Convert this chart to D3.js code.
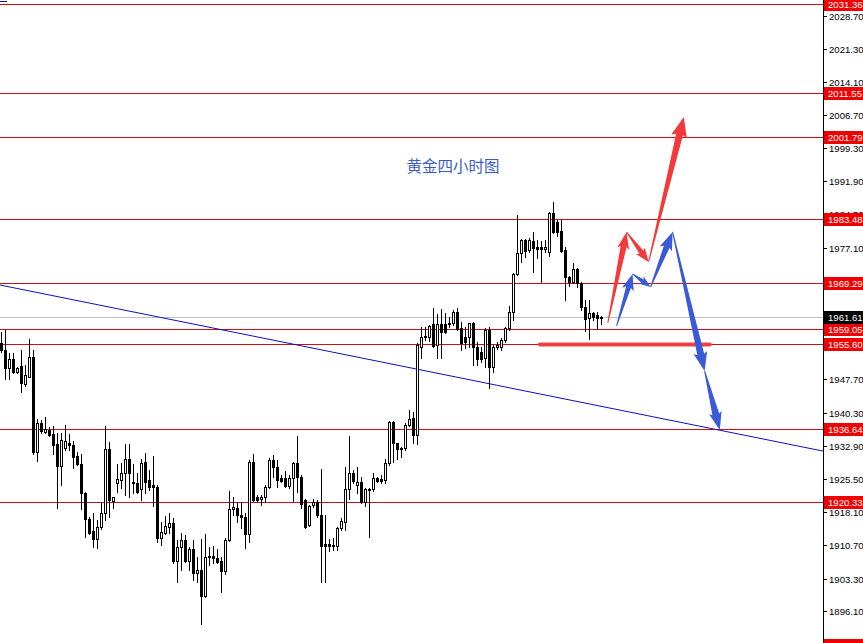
<!DOCTYPE html>
<html><head><meta charset="utf-8">
<script src="https://cdn.jsdelivr.net/npm/d3@7"></script>
<style>html,body{margin:0;padding:0;background:#fff;overflow:hidden}</style>
</head><body>
<svg id="c" width="863" height="643"></svg>
<script>
// ---- DATA ----
const openP = [1955.8,1954.3,1950.3,1952.3,1949.4,1950.7,1946.7,1948.3,1952.7,1931.5,1938.0,1936.0,1936.4,1935.5,1933.3,1928.4,1932.5,1933.5,1933.1,1930.6,
1928.9,1922.4,1916.6,1913.9,1912.1,1914.8,1917.9,1932.2,1920.6,1924.6,1925.3,1926.9,1930.0,1924.9,1924.6,1923.3,1929.3,1925.3,1924.2,1923.7,
1912.4,1913.5,1914.8,1915.7,1907.2,1910.4,1911.9,1907.2,1909.9,1904.6,1905.2,1899.4,1908.1,1908.4,1907.9,1907.2,1905.0,1911.9,1918.8,1919.1,
1917.5,1917.1,1913.3,1929.3,1921.5,1921.1,1921.5,1923.7,1929.8,1928.2,1925.7,1925.7,1923.9,1925.7,1929.1,1926.0,1920.8,1915.3,1919.7,1920.4,
1917.5,1911.0,1911.0,1910.6,1910.6,1914.6,1915.9,1923.3,1926.9,1924.2,1924.9,1920.4,1923.1,1923.3,1925.7,1925.5,1925.3,1929.1,1938.2,1933.5,
1932.4,1932.4,1937.5,1939.1,1935.3,1955.0,1957.2,1957.2,1960.1,1955.4,1960.1,1960.1,1960.3,1960.3,1962.7,1959.2,1957.2,1957.2,1960.3,1955.0,
1953.8,1952.5,1958.7,1950.5,1954.9,1955.0,1956.5,1959.2,1962.7,1971.2,1975.9,1978.8,1976.6,1978.6,1977.2,1977.2,1976.8,1976.1,1984.8,1982.8,
1980.8,1976.6,1970.5,1969.4,1972.3,1969.2,1963.9,1961.4,1962.5,1962.1,1961.5];
const highP = [1958.3,1958.7,1953.6,1953.6,1950.5,1954.3,1950.9,1956.7,1954.3,1938.9,1938.7,1939.3,1937.1,1937.3,1935.8,1935.8,1937.6,1935.5,1934.0,1931.5,
1931.1,1922.6,1917.1,1917.9,1916.4,1920.2,1937.3,1933.8,1921.5,1928.9,1929.1,1933.3,1933.3,1928.9,1926.9,1930.0,1931.3,1927.5,1930.6,1924.2,
1916.0,1917.3,1917.9,1916.8,1911.9,1913.5,1913.0,1910.4,1911.9,1908.1,1912.1,1913.3,1910.4,1910.6,1909.9,1908.1,1912.4,1922.8,1921.5,1920.4,
1920.4,1917.9,1929.8,1931.1,1922.0,1922.0,1924.2,1930.2,1930.9,1929.8,1926.4,1927.3,1926.4,1929.3,1935.1,1926.4,1921.0,1919.7,1921.1,1920.8,
1927.7,1917.5,1912.1,1912.4,1914.8,1916.8,1928.2,1935.1,1927.5,1928.2,1926.0,1923.5,1923.5,1926.9,1925.9,1926.4,1930.0,1938.4,1938.4,1933.5,
1932.7,1938.0,1940.9,1940.4,1955.8,1959.4,1959.4,1959.9,1963.6,1962.3,1963.4,1962.5,1961.6,1963.2,1963.6,1960.5,1959.4,1960.3,1960.5,1956.1,
1955.0,1959.2,1959.4,1955.4,1956.1,1956.9,1959.4,1964.1,1971.4,1984.4,1979.0,1979.0,1979.2,1980.6,1978.8,1978.6,1978.8,1985.0,1987.3,1983.2,
1983.2,1977.2,1970.8,1973.7,1972.5,1969.4,1965.4,1965.4,1962.7,1962.7,1961.9];
const lowP = [1953.8,1947.8,1947.8,1949.2,1949.2,1944.9,1946.2,1948.2,1931.1,1929.5,1935.8,1935.8,1935.1,1931.1,1919.1,1924.2,1932.0,1932.0,1928.0,1928.6,
1918.8,1912.6,1913.3,1910.4,1910.1,1914.4,1916.4,1917.1,1919.1,1922.6,1923.5,1921.9,1921.5,1922.4,1922.4,1920.8,1922.4,1923.0,1919.5,1911.5,
1910.8,1913.3,1913.5,1906.8,1902.6,1905.2,1907.0,1905.2,1903.0,1902.6,1893.2,1899.2,1906.4,1906.8,1906.8,1900.3,1904.3,1911.7,1917.5,1916.0,
1914.6,1910.1,1911.5,1920.6,1920.4,1919.7,1920.4,1923.5,1926.0,1923.7,1924.9,1923.7,1923.5,1920.6,1922.6,1919.1,1914.6,1915.0,1919.3,1917.1,
1902.6,1902.6,1909.5,1909.7,1909.7,1914.2,1914.2,1921.1,1924.6,1922.4,1920.2,1919.5,1912.6,1922.8,1924.9,1924.6,1924.6,1928.6,1929.3,1930.0,
1930.4,1932.0,1937.3,1933.5,1933.3,1952.5,1956.5,1956.3,1955.0,1952.5,1952.5,1958.1,1959.4,1959.9,1958.7,1954.3,1954.7,1955.0,1950.9,1950.9,
1951.6,1950.5,1945.8,1949.4,1954.5,1954.3,1956.1,1958.7,1961.0,1971.0,1973.9,1975.0,1976.1,1971.7,1974.8,1969.4,1976.1,1975.2,1980.4,1979.7,
1976.1,1965.4,1968.5,1969.2,1968.3,1963.2,1958.5,1956.7,1961.0,1959.2,1960.1];
const closeP = [1954.3,1950.3,1952.3,1949.4,1950.3,1946.9,1948.7,1952.7,1931.5,1938.0,1936.2,1936.7,1935.3,1933.1,1928.4,1934.2,1934.0,1933.0,1930.4,1928.9,
1922.4,1916.6,1913.5,1912.1,1914.8,1917.9,1932.2,1920.8,1921.5,1925.5,1926.9,1930.0,1926.9,1924.6,1922.6,1929.1,1924.9,1923.7,1923.7,1912.4,
1913.7,1915.0,1915.7,1907.2,1910.4,1911.9,1907.2,1909.9,1904.6,1905.2,1899.4,1908.1,1908.4,1907.9,1907.0,1905.0,1911.9,1918.8,1919.3,1917.5,
1917.1,1913.3,1929.3,1920.8,1920.8,1921.5,1923.7,1929.8,1928.2,1925.3,1925.1,1923.9,1925.7,1929.1,1926.0,1919.9,1914.8,1919.5,1920.4,1917.5,
1910.6,1910.6,1910.6,1910.8,1914.6,1916.2,1923.3,1926.9,1925.1,1924.9,1920.4,1923.3,1923.3,1925.7,1925.1,1925.1,1929.1,1938.2,1933.5,1932.2,
1932.2,1937.5,1938.9,1935.3,1955.4,1957.2,1957.4,1959.6,1955.2,1960.1,1958.3,1958.3,1960.1,1962.7,1958.9,1955.8,1956.1,1960.3,1955.0,1952.3,
1952.3,1958.7,1950.5,1955.0,1955.4,1956.5,1959.2,1962.7,1971.2,1975.9,1978.8,1976.3,1978.8,1977.0,1976.8,1976.8,1977.2,1984.8,1980.6,1980.6,
1976.3,1970.5,1969.4,1972.3,1969.2,1963.9,1961.2,1962.5,1961.6,1961.4,1961.61];

const axisTicks = [2028.70,2021.30,2014.10,2006.70,1999.30,1991.90,1984.50,1977.10,1969.70,1962.30,1954.90,1947.70,1940.30,1932.90,1925.50,1918.10,1910.70,1903.30,1896.10];
const levels = [2031.36,2011.55,2001.79,1983.48,1969.29,1959.05,1955.60,1936.64,1920.33,1888.47];
const lastPrice = 1961.61;
// trendline: [candle index, price]
const trendline = [[0,1968.70],[205.4,1931.76]];
// support brush line: [start index, end index, price]
const supportBrush = [134.7,177.2,1955.60];
// arrow paths: [candle index, price]
const redPath = [[151.7,1960.29],[156.4,1980.57],[161.9,1973.88],[170.7,2006.20]];
const bluePath = [[153.9,1959.62],[157.9,1971.21],[162.4,1968.31],[167.9,1980.57],[175.9,1949.59],[179.7,1936.44]];
const title = "黄金四小时图";

// ---- SCALES ----
const W = 863, H = 643, plotRight = 823;
const y = d3.scaleLinear().domain([1896.1, 2028.7]).range([611, 16]);
const x = d3.scaleLinear().domain([0, 150]).range([1, 601]);
const svg = d3.select("#c");

svg.append("defs").append("clipPath").attr("id","plot")
  .append("rect").attr("x",0).attr("y",0).attr("width",plotRight).attr("height",H);

const g = svg.append("g").attr("clip-path","url(#plot)");

// current price line
g.append("line").attr("x1",0).attr("x2",plotRight)
  .attr("y1",Math.round(y(lastPrice))+0.5).attr("y2",Math.round(y(lastPrice))+0.5)
  .attr("stroke","#c0c0c0").attr("stroke-width",1);

// level lines
g.selectAll("line.lvl").data(levels).join("line").attr("class","lvl")
  .attr("x1",0).attr("x2",plotRight)
  .attr("y1",d=>Math.round(y(d))+0.5).attr("y2",d=>Math.round(y(d))+0.5)
  .attr("stroke","#d01010").attr("stroke-width",1);

// trendline (extended across the plot, clipped)
(function(){
  const [a,b]=trendline; const s=(b[1]-a[1])/(b[0]-a[0]);
  const i0=x.invert(-2), i1=x.invert(plotRight+2);
  g.append("line").attr("x1",x(i0)).attr("y1",y(a[1]+s*(i0-a[0])))
   .attr("x2",x(i1)).attr("y2",y(a[1]+s*(i1-a[0]))).attr("stroke","#1010b8").attr("stroke-width",1);
})();

// candles
const idx = d3.range(openP.length);
const cg = g.append("g");
idx.forEach(i=>{
  const cx = Math.round(x(i));
  const o=openP[i], c=closeP[i], h=highP[i], l=lowP[i];
  cg.append("line").attr("x1",cx+0.5).attr("x2",cx+0.5)
    .attr("y1",Math.round(y(h))).attr("y2",Math.round(y(l))+1)
    .attr("stroke","#000").attr("stroke-width",1);
  const yo=Math.round(y(o)), yc=Math.round(y(c));
  if (c < o) {
    cg.append("rect").attr("x",cx-1).attr("y",yo).attr("width",3)
      .attr("height",Math.max(1,yc-yo+1)).attr("fill","#000");
  } else if (yc < yo) {
    cg.append("rect").attr("x",cx-0.5).attr("y",yc+0.5).attr("width",2)
      .attr("height",yo-yc).attr("fill","#fff").attr("stroke","#000").attr("stroke-width",1);
  } else {
    cg.append("rect").attr("x",cx-1).attr("y",yo).attr("width",3).attr("height",1).attr("fill","#000");
  }
});

// support brush line
g.append("line")
  .attr("x1",x(supportBrush[0])).attr("x2",x(supportBrush[1]))
  .attr("y1",y(supportBrush[2])+0.5).attr("y2",y(supportBrush[2])+0.5)
  .attr("stroke","#f03c3c").attr("stroke-width",4).attr("stroke-linecap","round").attr("opacity",0.95);

// arrows
function arrow(p0,p1,color,w0,w1,hw,hl){
  const x0=x(p0[0]), y0=y(p0[1]), x1=x(p1[0]), y1=y(p1[1]);
  const dx=x1-x0, dy=y1-y0, L=Math.hypot(dx,dy), ux=dx/L, uy=dy/L, nx=-uy, ny=ux;
  const bx=x1-ux*hl, by=y1-uy*hl;
  const pts=[
    [x0+nx*w0/2,y0+ny*w0/2],
    [bx+nx*w1/2,by+ny*w1/2],
    [bx+nx*hw/2 - ux*2,by+ny*hw/2 - uy*2],
    [x1,y1],
    [bx-nx*hw/2 - ux*2,by-ny*hw/2 - uy*2],
    [bx-nx*w1/2,by-ny*w1/2],
    [x0-nx*w0/2,y0-ny*w0/2]
  ];
  g.append("path").attr("d",d3.line()(pts)+"Z").attr("fill",color);
}
const RED="#f23a3a", BLUE="#3a5ad8";
arrow(redPath[0],redPath[1],RED,1,6,12,15);
arrow(redPath[1],redPath[2],RED,1,5,11,12);
arrow(redPath[2],redPath[3],RED,1,7,16,18);
arrow(bluePath[0],bluePath[1],BLUE,1,5,12,14);
arrow(bluePath[1],bluePath[2],BLUE,1,4,9,10);
arrow(bluePath[2],bluePath[3],BLUE,1,6,13,16);
arrow(bluePath[3],bluePath[4],BLUE,1,7,14,17);
arrow(bluePath[4],bluePath[5],BLUE,1,7,13,16);

// title
svg.append("text").attr("x",453).attr("y",172).attr("text-anchor","middle")
  .attr("font-family","'Noto Sans CJK SC',sans-serif").attr("font-size",15.5)
  .attr("fill","#3a5ac4").text(title);

// tiny mark top-left
svg.append("line").attr("x1",0).attr("x2",7).attr("y1",1.5).attr("y2",1.5).attr("stroke","#1010b8");

// axis
svg.append("line").attr("x1",plotRight+0.5).attr("x2",plotRight+0.5).attr("y1",0).attr("y2",H)
  .attr("stroke","#000");
const FONT="'Liberation Sans',Arial,sans-serif";
const tg = svg.append("g");
axisTicks.forEach(t=>{
  const ty=Math.round(y(t))+0.5;
  tg.append("line").attr("x1",plotRight).attr("x2",plotRight+4).attr("y1",ty).attr("y2",ty).attr("stroke","#000");
  tg.append("text").attr("x",829).attr("y",ty+3.5).attr("font-family",FONT).attr("font-size",9.6)
    .attr("fill","#000").text(d3.format(".2f")(t));
});
function label(v,bg){
  const ty=Math.round(y(v));
  svg.append("rect").attr("x",plotRight+1).attr("y",ty-6).attr("width",W-plotRight).attr("height",13).attr("fill",bg);
  svg.append("text").attr("x",828).attr("y",ty+4).attr("font-family",FONT).attr("font-size",9.6)
    .attr("fill","#fff").text(d3.format(".2f")(v));
}
levels.forEach(v=>label(v,"#f00000"));
label(lastPrice,"#000");
</script>
</body></html>
